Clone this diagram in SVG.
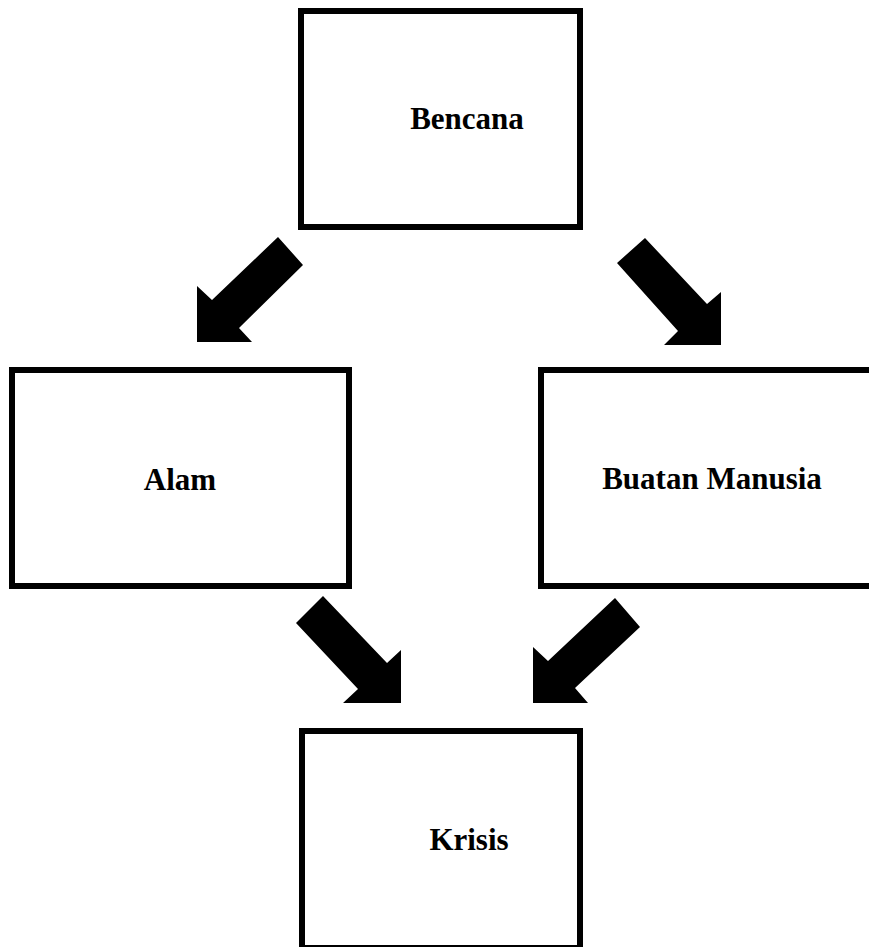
<svg xmlns="http://www.w3.org/2000/svg" width="869" height="947" viewBox="0 0 869 947">
<style>
.box{fill:#fff;stroke:#000;stroke-width:6}
.lbl{font-family:"Liberation Serif","Times New Roman",serif;font-weight:bold;font-size:31px;text-anchor:middle;fill:#000}
.arr{fill:#000}
</style>
<rect width="869" height="947" fill="#fff"/>
<g id="node-bencana">
<rect class="box" x="301" y="11" width="279" height="216"/>
<text class="lbl" x="467" y="129">Bencana</text>
</g>
<g id="node-alam">
<rect class="box" x="12" y="370" width="337" height="216"/>
<text class="lbl" x="180" y="490">Alam</text>
</g>
<g id="node-buatan">
<rect class="box" x="541" y="370" width="334" height="216"/>
<text class="lbl" x="712" y="489">Buatan Manusia</text>
</g>
<g id="node-krisis">
<rect class="box" x="302" y="731" width="278" height="217"/>
<text class="lbl" x="469" y="850">Krisis</text>
</g>
<g id="connectors">
<polygon class="arr" points="278,237 303,265 239,328 252,342 197,342 197,286 212,300"/>
<polygon class="arr" points="645,238 707,304 721,292 721,345 664,345 678,331 617,263"/>
<polygon class="arr" points="323,596 387,663 401,650 401,703 343,703 358,689 296,623"/>
<polygon class="arr" points="615,598 640,627 575,688 588,703 533,703 533,647 548,661"/>
</g>
</svg>
